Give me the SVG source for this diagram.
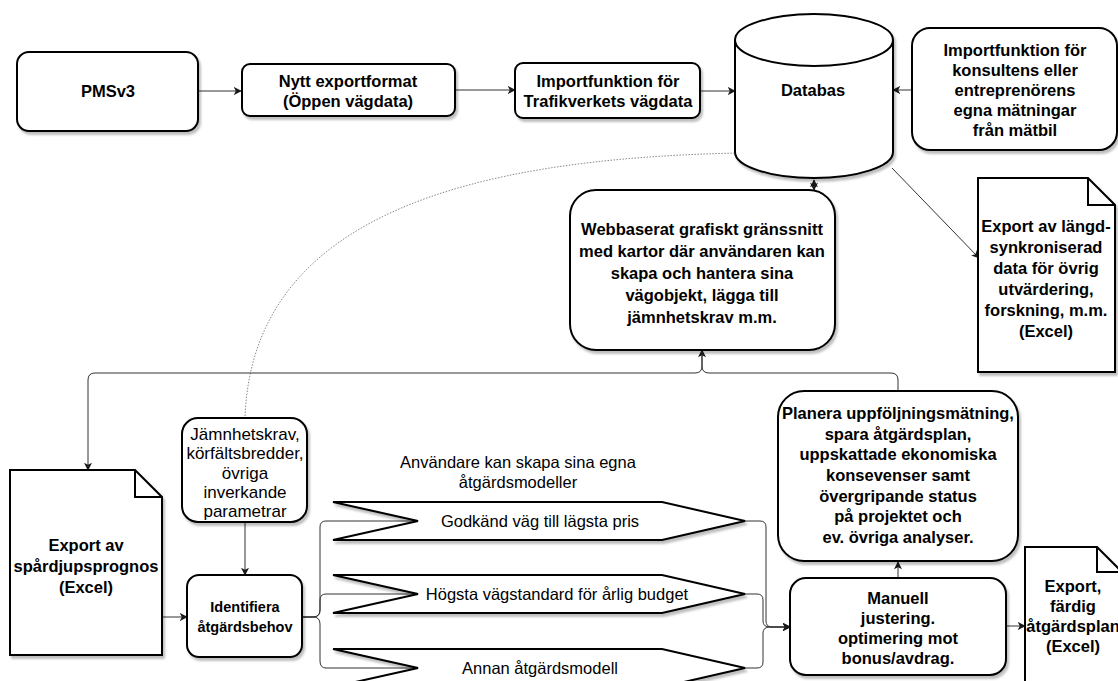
<svg xmlns="http://www.w3.org/2000/svg" width="1118" height="681" viewBox="0 0 1118 681">
<defs>
<filter id="sh" x="-10%" y="-10%" width="130%" height="130%">
<feDropShadow dx="2" dy="3" stdDeviation="1.2" flood-color="#000" flood-opacity="0.25"/>
</filter>
<marker id="ah" viewBox="0 0 10 10" refX="9" refY="5" markerWidth="8" markerHeight="8" markerUnits="userSpaceOnUse" orient="auto-start-reverse">
<path d="M0,0 L10,5 L0,10 L2.5,5 Z" fill="#1a1a1a"/>
</marker>
</defs>
<style>
.n{fill:#fff;stroke:#000;stroke-width:2;filter:url(#sh)}
.f{fill:none;stroke:#000;stroke-width:2}
.c{fill:none;stroke:#333;stroke-width:1}
.a{marker-end:url(#ah)}
.dot{fill:none;stroke:#888;stroke-width:1;stroke-dasharray:1.5 1.5}
text{font-family:"Liberation Sans",Arial,Helvetica,sans-serif;font-size:16.5px;fill:#000;text-anchor:middle}
.b{font-weight:bold}
.s{font-size:14.5px}
.r{font-size:17px}
</style>
<rect width="1118" height="681" fill="#fff"/>

<g id="connectors">
<path class="c a" d="M199,91 H241"/>
<path class="c a" d="M455,90 H515"/>
<path class="c a" d="M700,91 H735"/>
<path class="c a" d="M912,90 H893"/>
<path class="c a" d="M814,180 V190" style="marker-start:url(#ah)"/>
<path class="c a" d="M892,168 L979,258"/>
<path class="dot" d="M741,153 C470,158 252,215 245,418"/>
<path class="c a" d="M898,390 V380 Q898,373 891,373 H709 Q702,373 702,366 V350"/>
<path class="c a" d="M702,352 V366 Q702,373 695,373 H95 Q88,373 88,380 V470"/>
<path class="c a" d="M245,522 V575"/>
<path class="c a" d="M162,617 H187"/>
<path class="c a" d="M302,617 H313 Q320,617 320,610 V527 Q320,521 326,521 H418"/>
<path class="c a" d="M302,617 H313 Q320,617 320,610 V600 Q320,594 326,594 H418"/>
<path class="c a" d="M302,617 H313 Q320,617 320,624 V661 Q320,668 326,668 H418"/>
<path class="c a" d="M743,521 H760 Q766,521 766,527 V621 Q766,627 772,627 H790"/>
<path class="c a" d="M743,594 H757 Q763,594 763,600 V621 Q763,627 770,627 H790"/>
<path class="c a" d="M743,668 H757 Q763,668 763,662 V633 Q763,627 770,627 H790"/>
<path class="c a" d="M898,578 V562"/>
<path class="c a" d="M1005,626 H1025"/>
</g>

<g id="pmsv3">
<rect class="n" x="17" y="52" width="181" height="79" rx="12"/>
<text class="b" x="108" y="97">PMSv3</text>
</g>

<g id="nytt-exportformat">
<rect class="n" x="242" y="64" width="213" height="52" rx="8"/>
<text class="b" x="348" y="87">Nytt exportformat</text>
<text class="b" x="348" y="107">(Öppen vägdata)</text>
</g>

<g id="import-trafikverket">
<rect class="n" x="515" y="63" width="185" height="55" rx="8"/>
<text class="b" x="608" y="87">Importfunktion för</text>
<text class="b" x="608" y="107">Trafikverkets vägdata</text>
</g>

<g id="databas">
<path class="n" d="M735,40 A79,26 0 0 1 893,40 V152 A79,26 0 0 1 735,152 Z"/>
<path class="f" d="M735,40 A79,26 0 0 0 893,40"/>
<text class="b" x="813" y="96">Databas</text>
</g>

<g id="import-matbil">
<rect class="n" x="912" y="28" width="205" height="122" rx="18"/>
<text class="b" x="1015" y="56">Importfunktion för</text>
<text class="b" x="1015" y="76">konsultens eller</text>
<text class="b" x="1015" y="96">entreprenörens</text>
<text class="b" x="1015" y="116">egna mätningar</text>
<text class="b" x="1015" y="136">från mätbil</text>
</g>

<g id="webbaserat">
<rect class="n" x="570" y="190" width="265" height="160" rx="26"/>
<text class="b" x="702" y="235">Webbaserat grafiskt gränssnitt</text>
<text class="b" x="702" y="257">med kartor där användaren kan</text>
<text class="b" x="702" y="279">skapa och hantera sina</text>
<text class="b" x="702" y="301">vägobjekt, lägga till</text>
<text class="b" x="702" y="323">jämnhetskrav m.m.</text>
</g>

<g id="export-langd">
<path class="n" d="M978,178 H1088 L1115,205 V372 H978 Z"/>
<path class="f" d="M1088,178 V205 H1115"/>
<text class="b" x="1046" y="232">Export av längd-</text>
<text class="b" x="1046" y="253">synkroniserad</text>
<text class="b" x="1046" y="274">data för övrig</text>
<text class="b" x="1046" y="295">utvärdering,</text>
<text class="b" x="1046" y="316">forskning, m.m.</text>
<text class="b" x="1046" y="337">(Excel)</text>
</g>

<g id="jamnhetskrav">
<rect class="n" x="182" y="418" width="125" height="104" rx="16"/>
<text class="r" x="245" y="440">Jämnhetskrav,</text>
<text class="r" x="245" y="459">körfältsbredder,</text>
<text class="r" x="245" y="479">övriga</text>
<text class="r" x="245" y="498">inverkande</text>
<text class="r" x="245" y="517">parametrar</text>
</g>

<g id="export-spardjup">
<path class="n" d="M10,470 H135 L162,497 V655 H10 Z"/>
<path class="f" d="M135,470 V497 H162"/>
<text class="b" x="86" y="551">Export av</text>
<text class="b" x="86" y="572">spårdjupsprognos</text>
<text class="b" x="86" y="593">(Excel)</text>
</g>

<g id="identifiera">
<rect class="n" x="187" y="575" width="115" height="82" rx="12"/>
<text class="b s" x="245" y="612">Identifiera</text>
<text class="b s" x="245" y="632">åtgärdsbehov</text>
</g>

<g id="anvandare-text">
<text x="518" y="468">Användare kan skapa sina egna</text>
<text x="518" y="488">åtgärdsmodeller</text>
</g>

<g id="godkand">
<path class="n" d="M333,502 H662 L745,521 L662,540 H333 L418,521 Z"/>
<text x="540" y="527">Godkänd väg till lägsta pris</text>
</g>

<g id="hogsta">
<path class="n" d="M333,575 H662 L745,594 L662,613 H333 L418,594 Z"/>
<text x="557" y="600">Högsta vägstandard för årlig budget</text>
</g>

<g id="annan">
<path class="n" d="M333,649 H662 L745,668 L662,687 H333 L418,668 Z"/>
<text x="540" y="674">Annan åtgärdsmodell</text>
</g>

<g id="planera">
<rect class="n" x="778" y="391" width="240" height="170" rx="26"/>
<text class="b" x="898" y="419">Planera uppföljningsmätning,</text>
<text class="b" x="898" y="440">spara åtgärdsplan,</text>
<text class="b" x="898" y="460">uppskattade ekonomiska</text>
<text class="b" x="898" y="481">konsevenser samt</text>
<text class="b" x="898" y="502">övergripande status</text>
<text class="b" x="898" y="522">på projektet och</text>
<text class="b" x="898" y="543">ev. övriga analyser.</text>
</g>

<g id="manuell">
<rect class="n" x="790" y="578" width="216" height="97" rx="16"/>
<text class="b" x="898" y="604">Manuell</text>
<text class="b" x="898" y="624">justering.</text>
<text class="b" x="898" y="644">optimering mot</text>
<text class="b" x="898" y="664">bonus/avdrag.</text>
</g>

<g id="export-fardig">
<path class="n" d="M1025,547 H1097 L1122,572 V700 H1025 Z"/>
<path class="f" d="M1097,547 V572 H1122"/>
<text class="b" x="1073" y="592">Export,</text>
<text class="b" x="1073" y="612">färdig</text>
<text class="b" x="1073" y="632">åtgärdsplan</text>
<text class="b" x="1073" y="652">(Excel)</text>
</g>
</svg>
